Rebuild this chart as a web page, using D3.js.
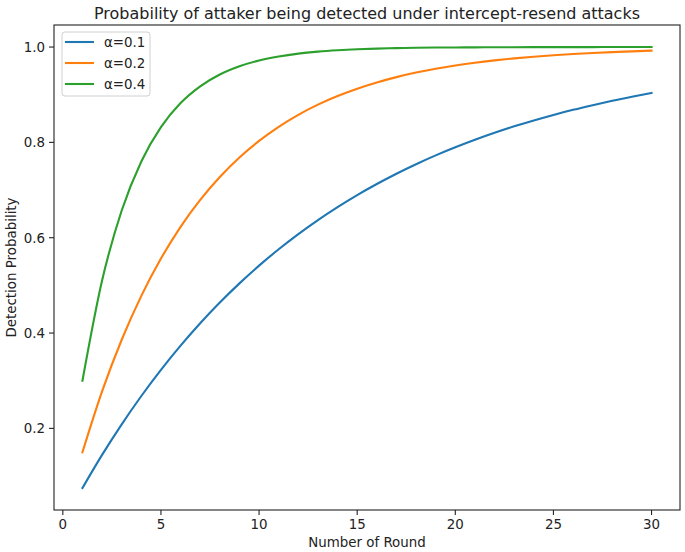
<!DOCTYPE html>
<html><head><meta charset="utf-8">
<script src="https://cdn.jsdelivr.net/npm/d3@7"></script>
<style>body{margin:0;background:#fff}text{font-family:"DejaVu Sans",sans-serif;fill:#222}</style>
</head><body><svg id="c" width="685" height="552"></svg>
<script>
const rounds = d3.range(1, 31);
const seriesLabels = ["α=0.1", "α=0.2", "α=0.4"];
const alpha01 = [0.075,0.1444,0.2085,0.2679,0.3228,0.3736,0.4206,0.4640,0.5042,0.5414,0.5758,0.6076,0.6371,0.6643,0.6895,0.7127,0.7343,0.7542,0.7727,0.7897,0.8055,0.8201,0.8336,0.8460,0.8576,0.8683,0.8781,0.8873,0.8957,0.9036];
const alpha02 = [0.15,0.2775,0.3859,0.4780,0.5563,0.6229,0.6794,0.7275,0.7684,0.8031,0.8327,0.8578,0.8791,0.8972,0.9126,0.9257,0.9369,0.9464,0.9544,0.9612,0.9671,0.9720,0.9762,0.9798,0.9828,0.9854,0.9876,0.9894,0.9910,0.9924];
const alpha04 = [0.3,0.51,0.657,0.7599,0.8319,0.8824,0.9176,0.9424,0.9596,0.9718,0.9802,0.9862,0.9903,0.9932,0.9953,0.9967,0.9977,0.9984,0.9989,0.9992,0.9994,0.9996,0.9997,0.9998,0.9999,0.9999,0.9999,1.0,1.0,1.0];
const xTicks = [0,5,10,15,20,25,30];
const yTicks = [0.2,0.4,0.6,0.8,1.0];
const colors = ["#1f77b4","#ff7f0e","#2ca02c"];
const series = [alpha01, alpha02, alpha04];

const L=54, R=680, T=25, B=510, FS=13.4;
const svg = d3.select("#c");
const x = d3.scaleLinear().domain([-0.45, 31.45]).range([L, R]);
const y = d3.scaleLinear().domain([0.02875, 1.04625]).range([B, T]);

function txt(g, xx, yy, s, size, anchor, rot, len) {
  const t = g.append("text").attr("transform", `translate(${xx},${yy}) rotate(${rot||0})`)
    .attr("font-size", size).attr("text-anchor", anchor).text(s);
  if (len) t.attr("textLength", len).attr("lengthAdjust","spacingAndGlyphs");
  return t;
}

// lines
const line = d3.line().curve(d3.curveMonotoneX).x((d,i)=>x(rounds[i])).y(d=>y(d));
series.forEach((s,i)=>{
  svg.append("path").attr("d", line(s)).attr("fill","none").attr("stroke",colors[i])
    .attr("stroke-width",2.1).attr("stroke-linejoin","round").attr("stroke-linecap","square");
});

// frame
svg.append("rect").attr("x",L).attr("y",T).attr("width",R-L).attr("height",B-T)
  .attr("fill","none").attr("stroke","#222").attr("stroke-width",1.1);

// x ticks
const gx = svg.append("g");
xTicks.forEach(v=>{
  gx.append("line").attr("x1",x(v)).attr("x2",x(v)).attr("y1",B).attr("y2",B+5).attr("stroke","#222").attr("stroke-width",1.1);
  txt(gx, x(v), B+19, String(v), FS, "middle");
});
// y ticks
yTicks.forEach(v=>{
  gx.append("line").attr("x1",L-5).attr("x2",L).attr("y1",y(v)).attr("y2",y(v)).attr("stroke","#222").attr("stroke-width",1.1);
  txt(gx, L-9, y(v)+5, v.toFixed(1), FS, "end");
});

txt(svg, (L+R)/2, 547, "Number of Round", FS, "middle");
txt(svg, 16, (T+B)/2, "Detection Probability", FS, "middle", -90);
txt(svg, (L+R)/2, 19, "Probability of attaker being detected under intercept-resend attacks", 16.2, "middle", 0, 546);

// legend
const lg = svg.append("g");
lg.append("rect").attr("x",62).attr("y",32).attr("width",88).attr("height",64).attr("rx",3)
  .attr("fill","#fff").attr("fill-opacity",0.8).attr("stroke","#d0d0d0").attr("stroke-width",1);
seriesLabels.forEach((s,i)=>{
  const yy = 42 + i*21;
  lg.append("line").attr("x1",65).attr("x2",94).attr("y1",yy).attr("y2",yy).attr("stroke",colors[i]).attr("stroke-width",2.1);
  txt(lg, 104, yy+5, s, FS, "start");
});
</script></body></html>
